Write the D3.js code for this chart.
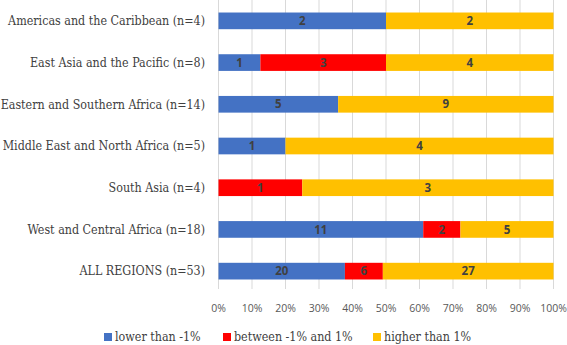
<!DOCTYPE html>
<html><head><meta charset="utf-8">
<script src="https://cdn.jsdelivr.net/npm/d3@7"></script>
<style>body{margin:0;background:#fff}svg{display:block}
.serif{font-family:"DejaVu Serif Condensed","DejaVu Serif",serif;font-stretch:condensed}
.sans{font-family:"Open Sans","Noto Sans","DejaVu Sans",sans-serif}
</style>
</head><body><svg id="c" width="567" height="345"></svg>
<script>
const categories = ["Americas and the Caribbean (n=4)","East Asia and the Pacific (n=8)","Eastern and Southern Africa (n=14)","Middle East and North Africa (n=5)","South Asia (n=4)","West and Central Africa (n=18)","ALL REGIONS (n=53)"];
const lower = [2,1,5,1,0,11,20];
const between = [0,3,0,0,1,2,6];
const higher = [2,4,9,4,3,5,27];
const seriesNames = ["lower than -1%","between -1% and 1%","higher than 1%"];
const colors = ["#4472C4","#FF0000","#FFC000"];
const ticks = [0,0.1,0.2,0.3,0.4,0.5,0.6,0.7,0.8,0.9,1];

const svg = d3.select("#c");
const x = d3.scaleLinear().domain([0,1]).range([218.5,553.5]);
const y = d3.scaleBand().domain(categories).range([0,292]).paddingInner(0.6).paddingOuter(0.3);

// gridlines
svg.append("g").selectAll("line").data(ticks).join("line")
  .attr("x1",d=>x(d)).attr("x2",d=>x(d)).attr("y1",0).attr("y2",289)
  .attr("stroke","#d9d9d9").attr("stroke-width",1);

const rows = categories.map((c,i)=>({c, vals:[lower[i],between[i],higher[i]]}));
const segs = [];
rows.forEach(r=>{
  const tot = d3.sum(r.vals); let acc=0;
  r.vals.forEach((v,k)=>{ segs.push({c:r.c,k,v,x0:acc/tot,x1:(acc+v)/tot}); acc+=v; });
});
const bars = segs.filter(s=>s.v>0);
svg.append("g").selectAll("rect").data(bars).join("rect")
  .attr("x",d=>x(d.x0)).attr("width",d=>x(d.x1)-x(d.x0))
  .attr("y",d=>y(d.c)).attr("height",y.bandwidth())
  .attr("fill",d=>colors[d.k]);
svg.append("g").selectAll("text").data(bars).join("text")
  .attr("class","sans")
  .attr("x",d=>(x(d.x0)+x(d.x1))/2).attr("y",d=>y(d.c)+y.bandwidth()/2)
  .attr("dy","0.36em").attr("text-anchor","middle")
  .attr("font-size",11.5).attr("font-weight","bold")
  .attr("fill","#404040").text(d=>d.v);

// category labels
const labs = svg.append("g").selectAll("text").data(categories).join("text")
  .attr("class","serif")
  .attr("x",205).attr("y",d=>y(d)+y.bandwidth()/2).attr("dy","0.35em")
  .attr("text-anchor","end")
  .attr("font-size",14).attr("fill","#404040").text(d=>d);
// fit font size so the first label spans the reference width (~197px)
const w0 = labs.node().getComputedTextLength();
const fs = Math.min(14, 14*197/w0);
labs.attr("font-size",fs);

// x tick labels
svg.append("g").selectAll("text").data(ticks).join("text")
  .attr("class","sans")
  .attr("x",d=>x(d)).attr("y",308).attr("dy","0.35em").attr("text-anchor","middle")
  .attr("font-size",10.5)
  .attr("fill","#595959").text(d3.format(".0%"));

// legend
const legX = [104,223,373];
const lg = svg.append("g").selectAll("g").data(seriesNames).join("g")
  .attr("transform",(d,i)=>`translate(${legX[i]},337)`);
lg.append("rect").attr("x",0).attr("y",-4).attr("width",8).attr("height",8).attr("fill",(d,i)=>colors[i]);
lg.append("text").attr("class","serif").attr("x",11).attr("y",0).attr("dy","0.35em")
  .attr("font-size",fs)
  .attr("fill","#404040").text(d=>d);
</script></body></html>
